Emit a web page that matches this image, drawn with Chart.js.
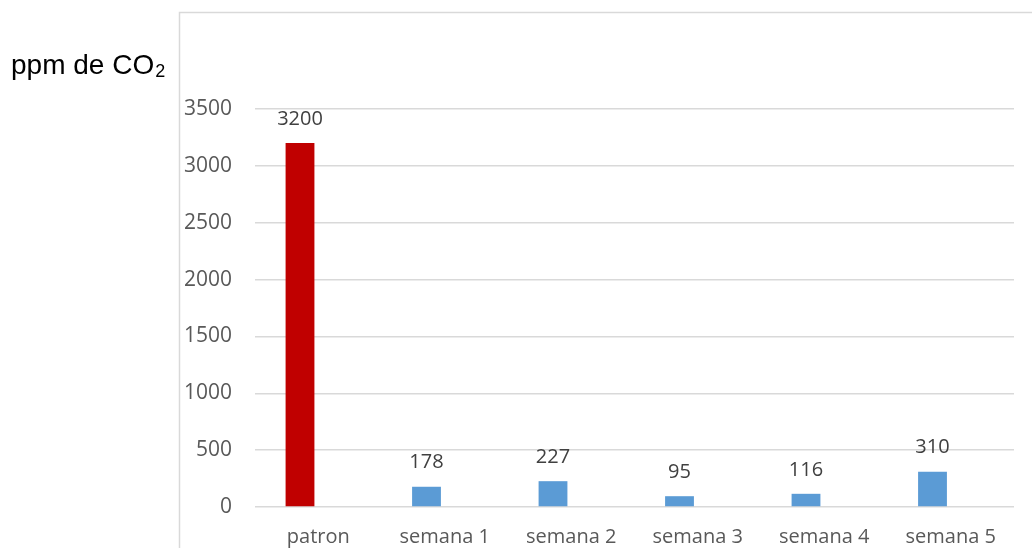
<!DOCTYPE html>
<html>
<head>
<meta charset="utf-8">
<script src="https://cdn.jsdelivr.net/npm/chart.js@4"></script>
<style>
html,body{margin:0;padding:0;background:#fff;}
#wrap{width:1032px;height:548px;position:relative;}
</style>
</head>
<body>
<div id="wrap"><canvas id="c" width="1032" height="548"></canvas></div>
<script>
const categories = ['patron', 'semana 1', 'semana 2', 'semana 3', 'semana 4', 'semana 5'];
const co2Values = [3200, 178, 227, 95, 116, 310];
const emptySeries = [null, null, null, null, null, null];
const barColors = ['#c00000', '#5b9bd5', '#5b9bd5', '#5b9bd5', '#5b9bd5', '#5b9bd5'];
const yTicks = [0, 500, 1000, 1500, 2000, 2500, 3000, 3500];
const axisTitle = 'ppm de CO';
const axisTitleSub = '2';

const FONT = "'Open Sans', sans-serif";

const framePlugin = {
  id: 'frame',
  beforeDraw(chart) {
    const ctx = chart.ctx;
    ctx.save();
    ctx.strokeStyle = '#d9d9d9';
    ctx.lineWidth = 1.5;
    ctx.strokeRect(179.5, 12.5, 1200, 1200);
    // y-axis title with subscript
    ctx.fillStyle = '#000';
    ctx.font = "28px 'Liberation Sans', Arial, sans-serif";
    ctx.textBaseline = 'alphabetic';
    ctx.textAlign = 'left';
    ctx.fillText(axisTitle, 11, 74);
    const w = ctx.measureText(axisTitle).width;
    ctx.font = "18px 'Liberation Sans', Arial, sans-serif";
    ctx.fillText(axisTitleSub, 11 + w + 1, 77);
    ctx.restore();
  }
};

const labelPlugin = {
  id: 'valueLabels',
  afterDatasetsDraw(chart) {
    const ctx = chart.ctx;
    const meta = chart.getDatasetMeta(0);
    ctx.save();
    ctx.fillStyle = '#404040';
    ctx.font = '20px ' + FONT;
    ctx.textAlign = 'center';
    ctx.textBaseline = 'middle';
    meta.data.forEach((bar, i) => {
      const v = chart.data.datasets[0].data[i];
      if (v == null) return;
      ctx.fillText(String(v), bar.x, bar.y - 24);
    });
    ctx.restore();
  }
};

new Chart(document.getElementById('c'), {
  type: 'bar',
  data: {
    labels: categories,
    datasets: [
      { data: co2Values, backgroundColor: barColors, categoryPercentage: 0.577, barPercentage: 0.79 },
      { data: emptySeries, backgroundColor: '#ed7d31', categoryPercentage: 0.577, barPercentage: 0.79 }
    ]
  },
  options: {
    responsive: false,
    animation: false,
    events: [],
    layout: { padding: { left: 180, right: 18, top: 109, bottom: 0 } },
    plugins: { legend: { display: false }, tooltip: { enabled: false } },
    scales: {
      x: {
        grid: { display: false },
        border: { display: false },
        ticks: { color: '#595959', font: { family: FONT, size: 20 }, padding: 10, maxRotation: 0 },
        afterFit(scale) { scale.height = 41; }
      },
      y: {
        min: 0, max: 3500,
        afterBuildTicks(scale) { scale.ticks = yTicks.map(v => ({ value: v })); },
        grid: { color: '#d9d9d9', lineWidth: 1.5, drawTicks: false },
        border: { display: false },
        ticks: { color: '#595959', font: { family: FONT, size: 21 }, padding: 23, callback: v => String(v) },
        afterFit(scale) { scale.width = 75; }
      }
    }
  },
  plugins: [framePlugin, labelPlugin]
});
</script>
</body>
</html>
